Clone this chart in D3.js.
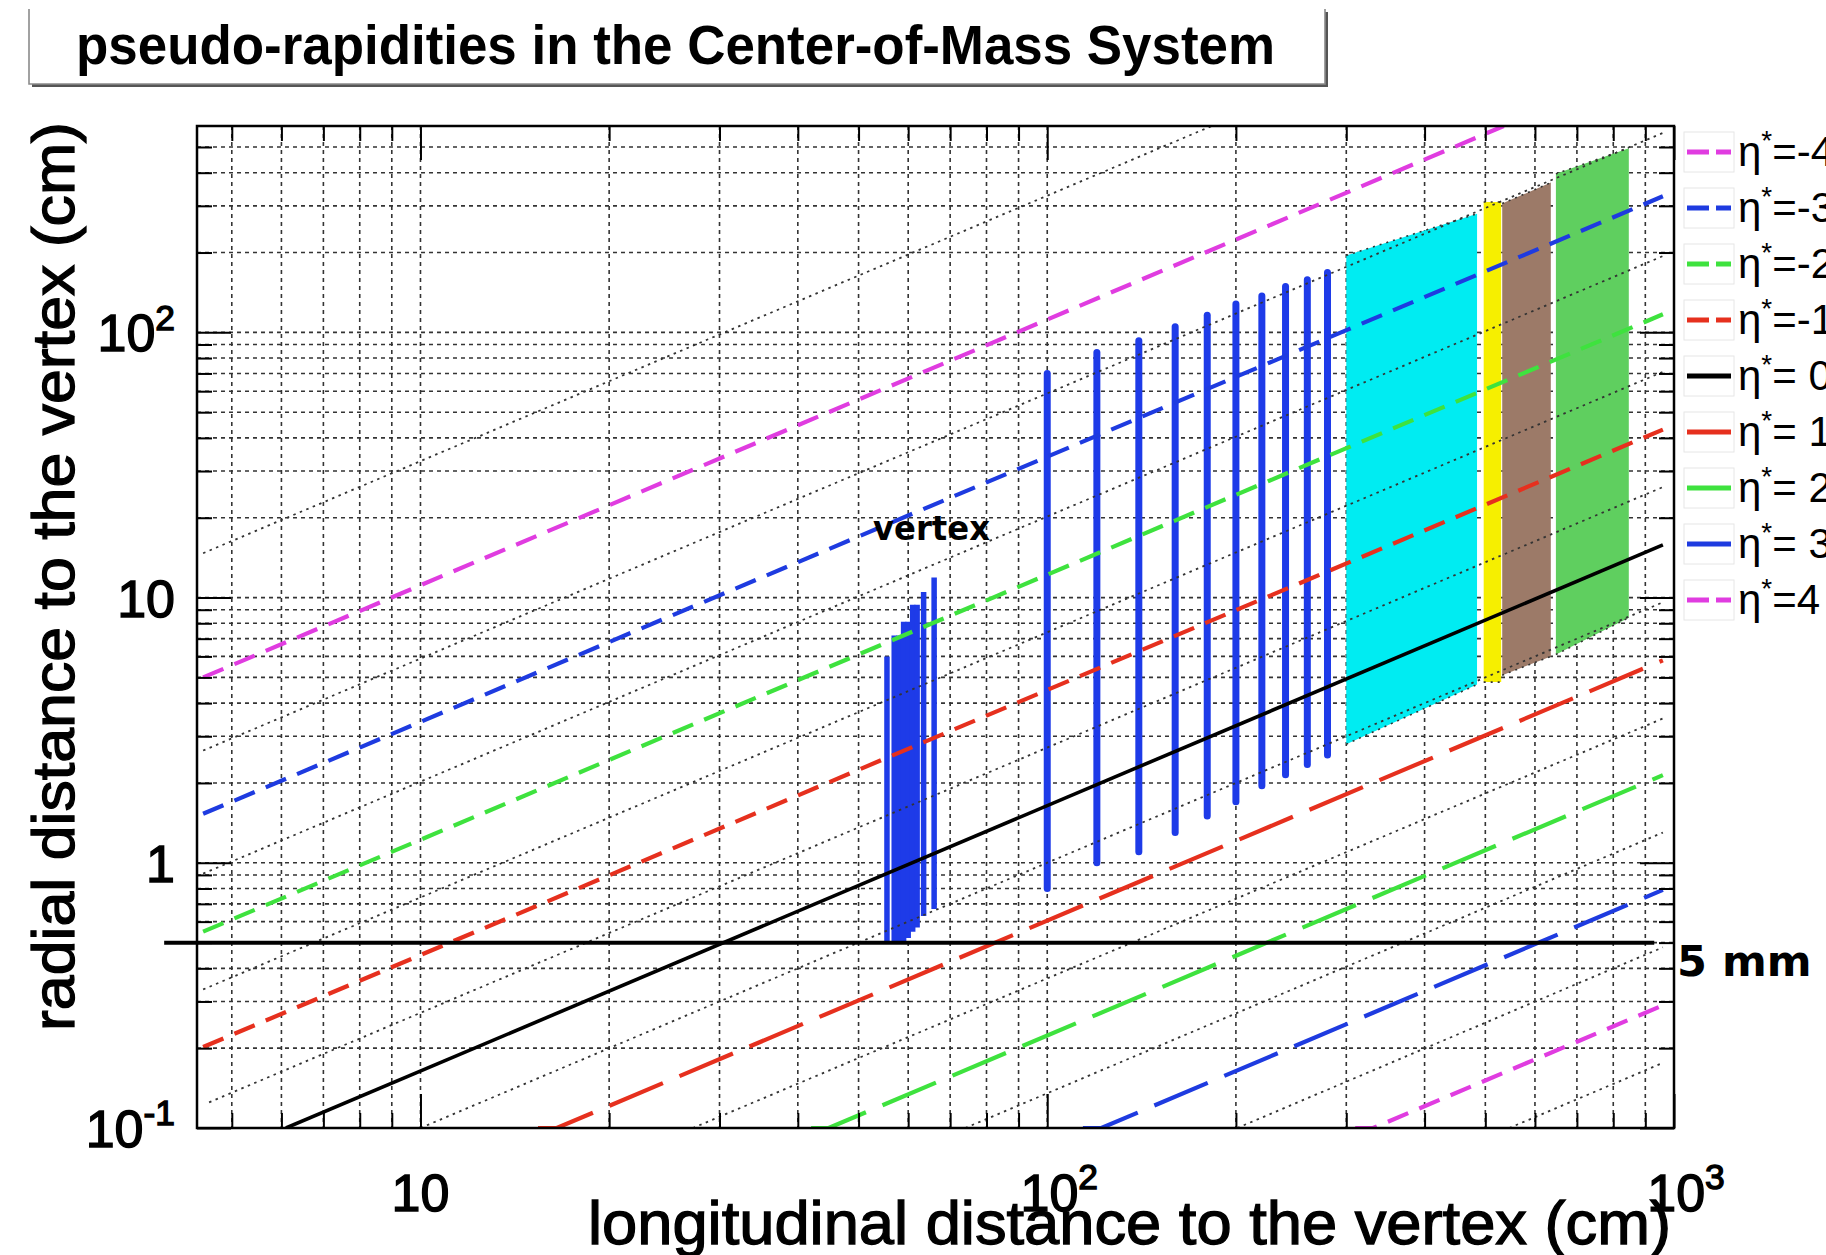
<!DOCTYPE html>
<html><head><meta charset="utf-8">
<script src="https://cdn.jsdelivr.net/npm/d3@7"></script>
<style>html,body{margin:0;padding:0;background:#fff}svg{display:block}</style>
</head><body>
<svg id="chart" width="1826" height="1255"></svg>
<script>
// Axis ranges (cm)
const zDomain = [4.4, 1000];
const rDomain = [0.1, 600];

// Tick labels
const xTickValues = [10, 100, 1000];
const xTickBase = ["10", "10", "10"];
const xTickExp = ["", "2", "3"];
const yTickValues = [0.1, 1, 10, 100];
const yTickBase = ["10", "1", "10", "10"];
const yTickExp = ["-1", "", "", "2"];

// Constant-η* lines: endpoints (z, r) in cm
const etaLabels = ["=-4", "=-3", "=-2", "=-1", "= 0", "= 1", "= 2", "= 3", "=4"];
const etaColors = ["#e03ce0", "#1e3be0", "#3ee23e", "#e6301e", "#000000", "#e6301e", "#3ee23e", "#1e3be0", "#e03ce0"];
const etaStyles = ["short", "short", "short", "short", "solid", "long", "long", "long", "short"];
const etaPoints = [
  [[4.5, 5.0], [535, 600]],
  [[4.5, 1.53], [960, 326]],
  [[4.5, 0.55], [960, 117]],
  [[4.5, 0.202], [960, 43]],
  [[6.1, 0.1], [960, 15.8]],
  [[15.4, 0.1], [16.5, 0.1], [960, 5.8]],
  [[42, 0.1], [44.8, 0.1], [960, 2.14]],
  [[114, 0.1], [122, 0.1], [960, 0.79]],
  [[310, 0.1], [331, 0.1], [960, 0.29]]
];
// Intermediate half-unit η* lines (dotted)
const halfEtaPoints = [
  [[4.5, 14.7], [183, 600]],
  [[4.5, 2.65], [960, 565]],
  [[4.5, 0.91], [960, 194]],
  [[4.5, 0.333], [960, 71]],
  [[4.6, 0.125], [960, 26.1]],
  [[10.0, 0.1], [960, 9.6]],
  [[27.2, 0.1], [960, 3.5]],
  [[74, 0.1], [960, 1.3]],
  [[201, 0.1], [960, 0.48]],
  [[546, 0.1], [960, 0.176]]
];

// Vertex detector planes
const vertexZ = [55.5, 57, 58, 59, 60, 61, 62, 63.5, 66];
const vertexRmin = [0.5, 0.5, 0.5, 0.5, 0.52, 0.55, 0.57, 0.63, 0.67];
const vertexRmax = [6.0, 7.2, 7.2, 8.1, 8.1, 9.4, 9.4, 10.5, 11.9];

// Tracker stations
const trackerZ = [100, 120, 140, 160, 180, 200, 220, 240, 260, 280];
const trackerRmin = [0.8, 1.0, 1.1, 1.3, 1.5, 1.7, 1.95, 2.15, 2.35, 2.55];
const trackerRmax = [70, 84, 93, 105, 116, 128, 137, 149, 158, 168];

// Downstream detector blocks: z range, top and bottom radii at each end
const blockNames = ["cyan", "yellow", "brown", "green"];
const blockZ = [[300, 485], [497, 530], [532, 636], [648, 847]];
const blockRtop = [[195, 280], [310, 310], [306, 367], [396, 495]];
const blockRbottom = [[2.8, 4.7], [4.8, 4.8], [5.1, 6.0], [6.1, 8.4]];
const blockColors = ["#00ecf2", "#f6ef00", "#9c7a68", "#5fcf5f"];

// Beam-pipe radius
const pipeR = 0.5;
const pipeZ = [3.9, 930];

const svg = d3.select("#chart");
const plot = {left: 197, right: 1674, top: 126, bottom: 1128};
const x = d3.scaleLog().domain(zDomain).range([plot.left, plot.right]);
const y = d3.scaleLog().domain(rDomain).range([plot.bottom, plot.top]);

svg.append("rect").attr("width", 1826).attr("height", 1255).attr("fill", "#fff");

svg.append("defs").append("clipPath").attr("id", "plotclip")
  .append("rect").attr("x", plot.left).attr("y", plot.top)
  .attr("width", plot.right - plot.left).attr("height", plot.bottom - plot.top);

// Title pave with shadow
const tb = svg.append("g");
tb.append("rect").attr("x", 32).attr("y", 12).attr("width", 1296).attr("height", 75).attr("fill", "#555");
tb.append("rect").attr("x", 29).attr("y", 9).attr("width", 1296).attr("height", 75).attr("fill", "#fff");
tb.append("path").attr("d", "M29,9V84H1325V9").attr("fill", "none")
  .attr("stroke", "#8a8a8a").attr("stroke-width", 1.6);
tb.append("text").attr("x", 76).attr("y", 64)
  .attr("font-family", "Liberation Sans, Arial, sans-serif").attr("font-weight", "bold")
  .attr("font-size", 55).attr("textLength", 1199).attr("lengthAdjust", "spacingAndGlyphs")
  .text("pseudo-rapidities in the Center-of-Mass System");

// Grid
const gridX = x.ticks().filter(v => v > zDomain[0] * 1.001 && v < zDomain[1] * 0.999);
const gridY = y.ticks().filter(v => v > rDomain[0] * 1.01 && v < rDomain[1] * 0.999);
const grid = svg.append("g").attr("stroke", "#111").attr("stroke-width", 1.6)
  .attr("stroke-dasharray", "4,4").attr("opacity", 0.85);
grid.selectAll(".gx").data(gridX).join("line")
  .attr("x1", d => x(d)).attr("x2", d => x(d)).attr("y1", plot.top).attr("y2", plot.bottom);
grid.selectAll(".gy").data(gridY).join("line")
  .attr("y1", d => y(d)).attr("y2", d => y(d)).attr("x1", plot.left).attr("x2", plot.right);

const plotG = svg.append("g").attr("clip-path", "url(#plotclip)");
const line = d3.line().x(d => x(d[0])).y(d => y(d[1]));

// Detector blocks
blockNames.forEach((name, i) => {
  const pts = [[blockZ[i][0], blockRbottom[i][0]], [blockZ[i][0], blockRtop[i][0]],
               [blockZ[i][1], blockRtop[i][1]], [blockZ[i][1], blockRbottom[i][1]]];
  plotG.append("path").attr("class", "block-" + name)
    .attr("d", line(pts) + "Z").attr("fill", blockColors[i]);
  plotG.append("path").attr("d", line([pts[1], pts[2]])).attr("fill", "none")
    .attr("stroke", "#333").attr("stroke-width", 1.6).attr("stroke-dasharray", "2,5");
  plotG.append("path").attr("d", line([pts[0], pts[3]])).attr("fill", "none")
    .attr("stroke", "#333").attr("stroke-width", 1.6).attr("stroke-dasharray", "2,5");
});

// Vertex planes and tracker stations
plotG.selectAll(".vtx").data(vertexZ).join("line")
  .attr("x1", d => x(d)).attr("x2", d => x(d))
  .attr("y1", (d, i) => y(vertexRmin[i])).attr("y2", (d, i) => y(vertexRmax[i]))
  .attr("stroke", "#1e3be8").attr("stroke-width", 5.5);
plotG.selectAll(".trk").data(trackerZ).join("line")
  .attr("x1", d => x(d)).attr("x2", d => x(d))
  .attr("y1", (d, i) => y(trackerRmin[i])).attr("y2", (d, i) => y(trackerRmax[i]))
  .attr("stroke", "#1e3be8").attr("stroke-width", 7).attr("stroke-linecap", "round");

// Dotted half-unit lines
plotG.selectAll(".half").data(halfEtaPoints).join("path")
  .attr("d", line).attr("fill", "none").attr("stroke", "#333")
  .attr("stroke-width", 1.8).attr("stroke-dasharray", "2.5,4.5");

// Coloured η* lines
const dash = {short: "22,12", long: "58,18", solid: null};
plotG.selectAll(".eta").data(etaPoints).join("path")
  .attr("d", line).attr("fill", "none")
  .attr("stroke", (d, i) => etaColors[i])
  .attr("stroke-width", (d, i) => etaStyles[i] === "solid" ? 3.6 : 4.2)
  .attr("stroke-dasharray", (d, i) => dash[etaStyles[i]]);

// Frame and ticks
const majorX = xTickValues, minorX = gridX.filter(v => !majorX.includes(v));
const majorY = yTickValues.concat([]), minorY = gridY.filter(v => !majorY.includes(v));
function tickG(axisFn, scale, vals, size, tx, ty) {
  const g = svg.append("g").attr("transform", `translate(${tx},${ty})`)
    .call(axisFn(scale).tickValues(vals).tickSize(size).tickFormat("").tickSizeOuter(0));
  g.select(".domain").remove();
  g.selectAll(".tick line").attr("stroke", "#000").attr("stroke-width", 2);
}
tickG(d3.axisBottom, x, minorX, -15, 0, plot.bottom);
tickG(d3.axisBottom, x, majorX, -34, 0, plot.bottom);
tickG(d3.axisTop, x, minorX, -15, 0, plot.top);
tickG(d3.axisTop, x, majorX, -34, 0, plot.top);
tickG(d3.axisLeft, y, minorY, -15, plot.left, 0);
tickG(d3.axisLeft, y, majorY, -34, plot.left, 0);
tickG(d3.axisRight, y, minorY, -15, plot.right, 0);
tickG(d3.axisRight, y, majorY, -34, plot.right, 0);

svg.append("rect").attr("x", plot.left).attr("y", plot.top)
  .attr("width", plot.right - plot.left).attr("height", plot.bottom - plot.top)
  .attr("fill", "none").attr("stroke", "#000").attr("stroke-width", 2.5);

// Beam-pipe radius line
svg.append("path").attr("d", line([[pipeZ[0], pipeR], [pipeZ[1], pipeR]]))
  .attr("stroke", "#000").attr("stroke-width", 4).attr("fill", "none");

// Tick labels
const font = "Liberation Sans, Arial, sans-serif";
function powLabel(sel, base, exp, size) {
  sel.append("tspan").text(base);
  if (exp) sel.append("tspan").attr("font-size", size * 0.68).attr("dy", -size * 0.42).text(exp);
}
xTickValues.forEach((v, i) => {
  const t = svg.append("text").attr("x", x(v) + (xTickExp[i] ? 12 : 0)).attr("y", 1211)
    .attr("text-anchor", "middle").attr("font-family", font).attr("font-size", 52)
    .attr("stroke", "#000").attr("stroke-width", 1.4);
  powLabel(t, xTickBase[i], xTickExp[i], 52);
});
yTickValues.forEach((v, i) => {
  const t = svg.append("text").attr("x", 175).attr("y", y(v) + 19)
    .attr("text-anchor", "end").attr("font-family", font).attr("font-size", 52)
    .attr("stroke", "#000").attr("stroke-width", 1.4);
  powLabel(t, yTickBase[i], yTickExp[i], 52);
});

// Axis titles
svg.append("text").attr("x", 588).attr("y", 1244)
  .attr("font-family", font).attr("font-size", 62)
  .attr("textLength", 1083).attr("lengthAdjust", "spacingAndGlyphs")
  .attr("stroke", "#000").attr("stroke-width", 1.3)
  .text("longitudinal distance to the vertex (cm)");
svg.append("text").attr("transform", "translate(74,1031) rotate(-90)")
  .attr("font-family", font).attr("font-size", 60)
  .attr("textLength", 909).attr("lengthAdjust", "spacingAndGlyphs")
  .attr("stroke", "#000").attr("stroke-width", 1.3)
  .text("radial distance to the vertex (cm)");

// Annotations
svg.append("text").attr("x", 873).attr("y", 540)
  .attr("font-family", "DejaVu Sans, sans-serif").attr("font-weight", "bold")
  .attr("font-size", 34).attr("textLength", 117).attr("lengthAdjust", "spacingAndGlyphs")
  .text("vertex");
svg.append("text").attr("x", 1677).attr("y", 976)
  .attr("font-family", "DejaVu Sans, sans-serif").attr("font-weight", "bold")
  .attr("font-size", 43).text("5 mm");

// Legend
const leg = svg.append("g");
etaLabels.forEach((lab, i) => {
  const cy = 152 + i * 56;
  leg.append("rect").attr("x", 1684).attr("y", cy - 20).attr("width", 50).attr("height", 40)
    .attr("fill", "none").attr("stroke", "#e6e6e6").attr("stroke-width", 1);
  leg.append("line").attr("x1", 1687).attr("x2", 1731).attr("y1", cy).attr("y2", cy)
    .attr("stroke", etaColors[i]).attr("stroke-width", 5)
    .attr("stroke-dasharray", etaStyles[i] === "short" ? "22,7" : null);
  const t = leg.append("text").attr("x", 1738).attr("y", cy + 14)
    .attr("font-family", font).attr("font-size", 42).attr("xml:space", "preserve");
  t.append("tspan").text("η");
  t.append("tspan").attr("font-size", 28).attr("dy", -16).text("*");
  t.append("tspan").attr("dy", 16).text(lab);
});
</script>
</body></html>
